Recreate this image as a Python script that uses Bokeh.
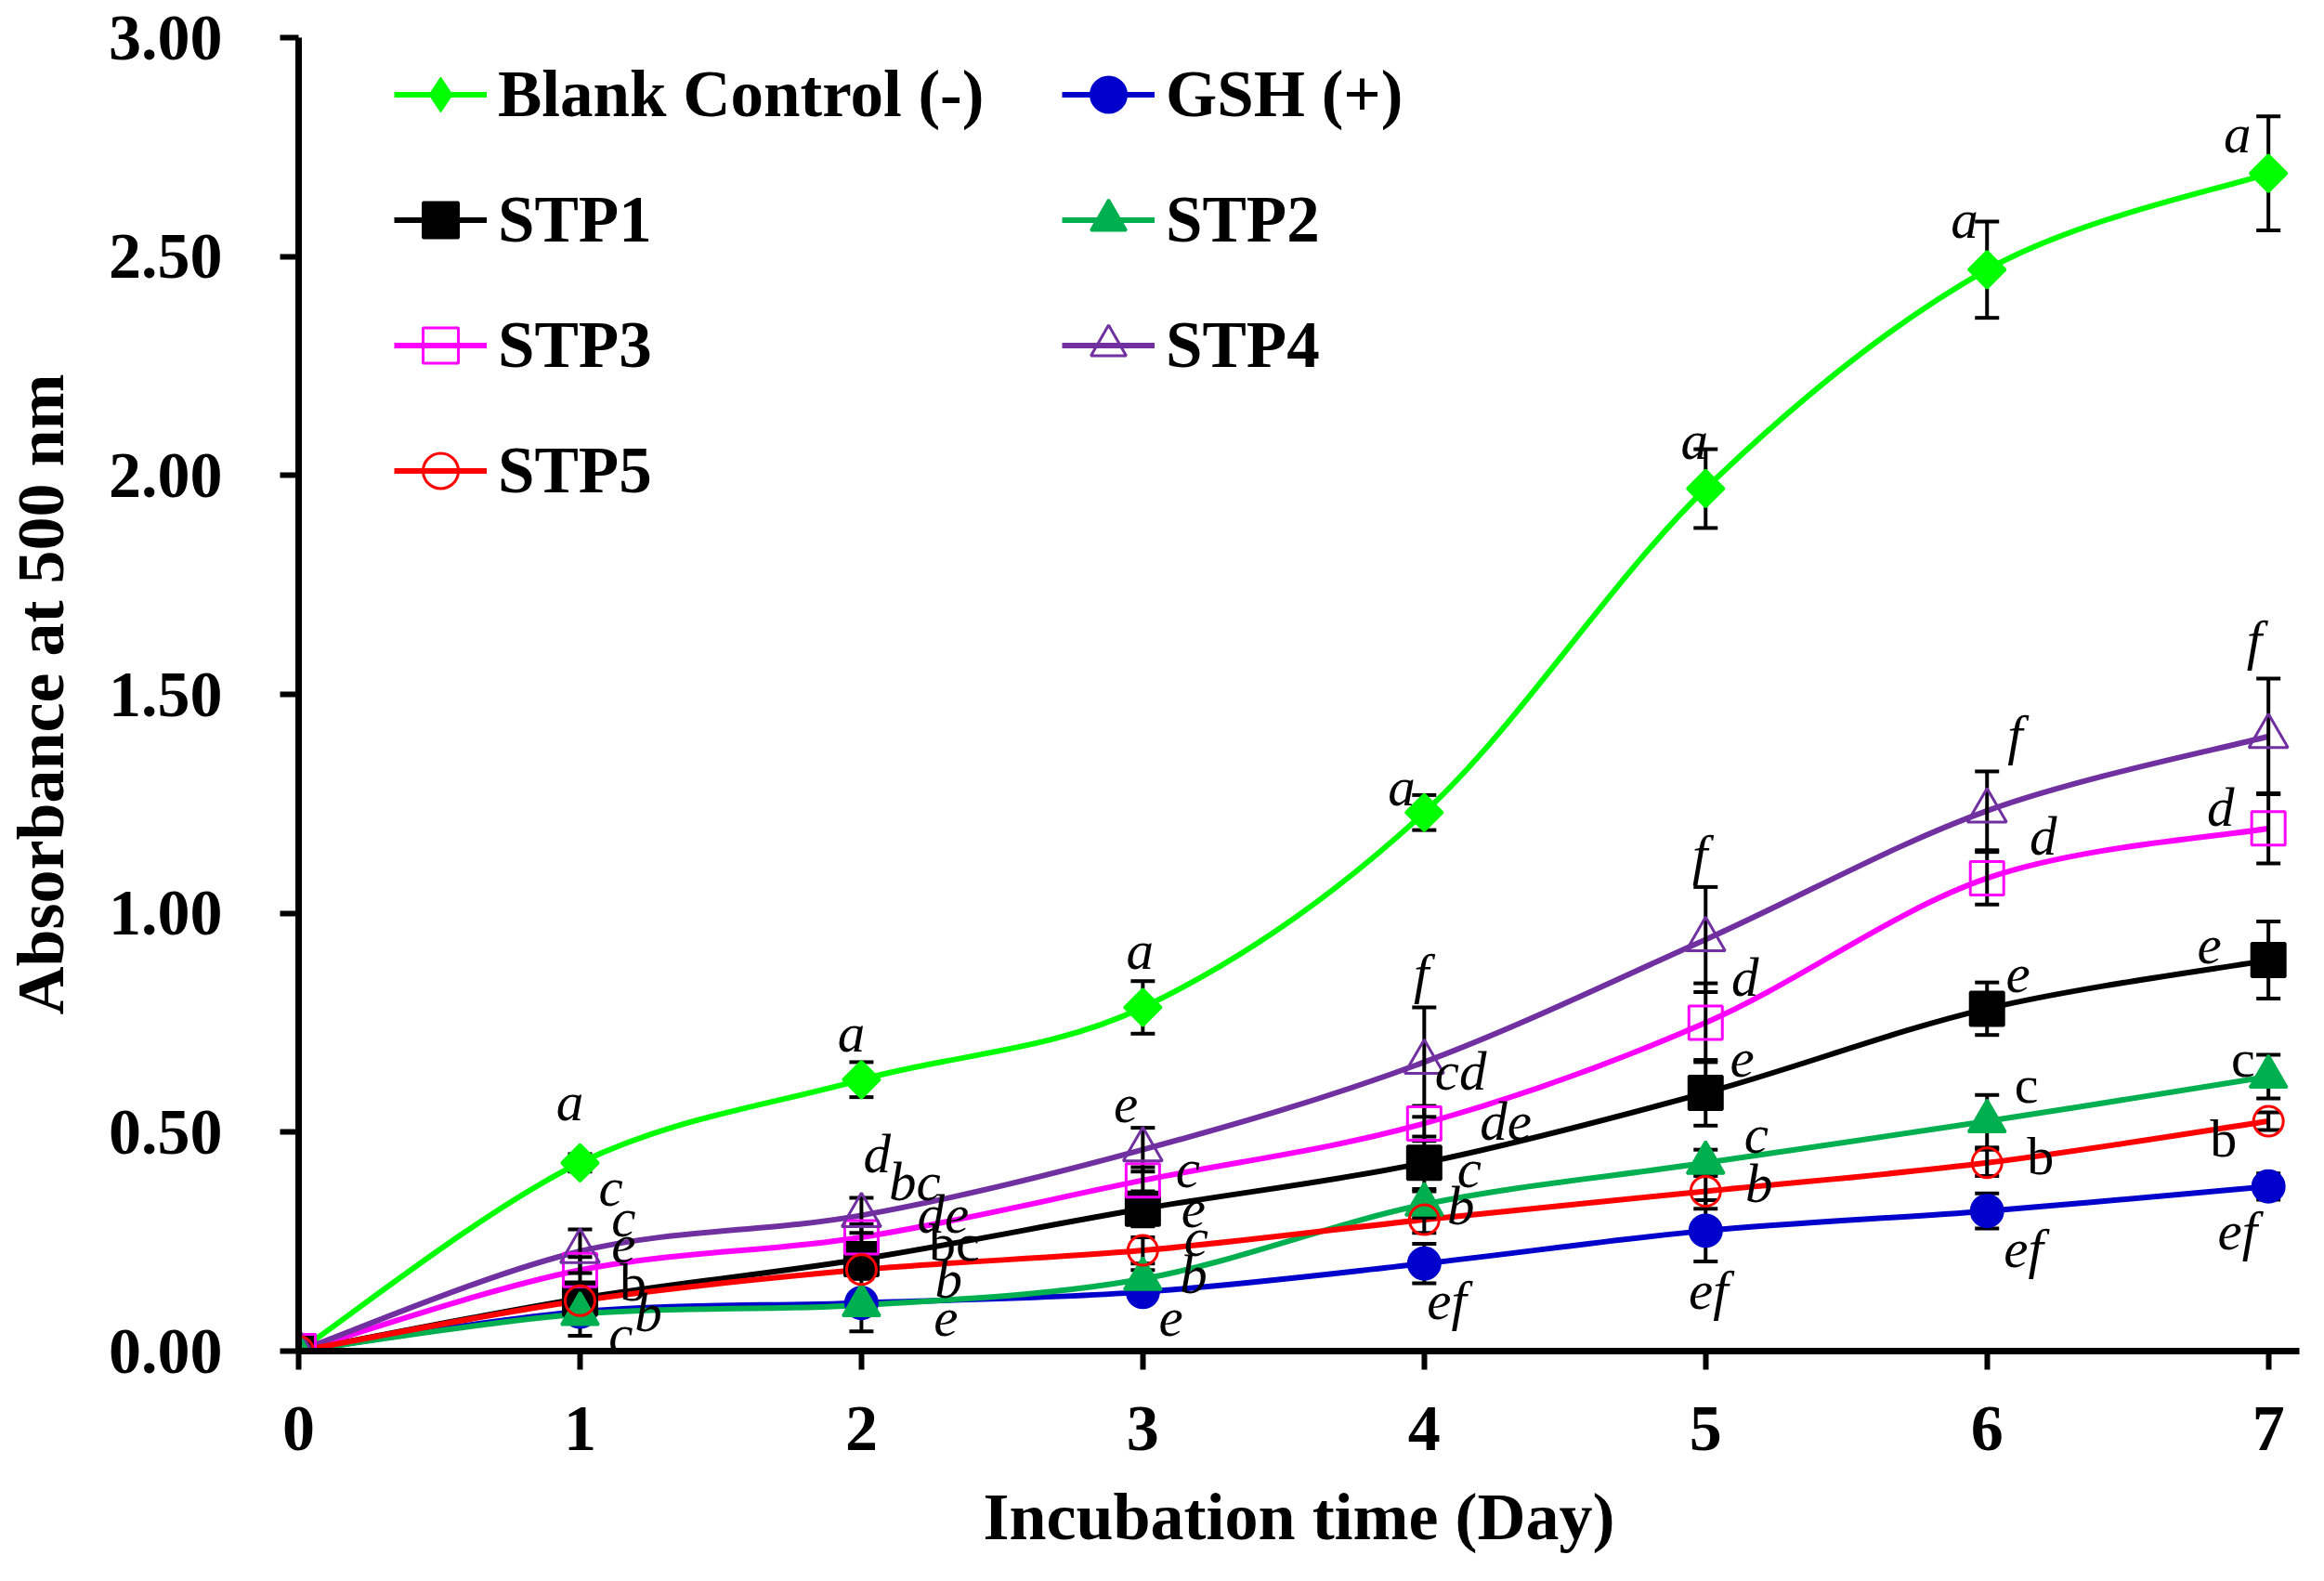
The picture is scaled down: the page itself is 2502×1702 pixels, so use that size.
import numpy as np
from bokeh.plotting import figure
from bokeh.models import Range1d, FixedTicker, PrintfTickFormatter, Legend, LegendItem
from bokeh.embed import file_html
from bokeh.resources import INLINE
from bokeh.core.properties import value

# ---------------- data ----------------
days = [0, 1, 2, 3, 4, 5, 6, 7]

blank = [0.0, 0.43, 0.62, 0.785, 1.23, 1.97, 2.47, 2.69]
blank_err = [0.0, 0.02, 0.04, 0.06, 0.04, 0.09, 0.11, 0.13]

gsh = [0.0, 0.09, 0.11, 0.135, 0.20, 0.275, 0.32, 0.376]
gsh_err = [0.0, 0.01, 0.01, 0.02, 0.045, 0.07, 0.04, 0.03]

stp1 = [0.0, 0.12, 0.21, 0.325, 0.43, 0.59, 0.782, 0.893]
stp1_err = [0.0, 0.02, 0.03, 0.04, 0.06, 0.075, 0.06, 0.088]

stp2 = [0.0, 0.085, 0.105, 0.165, 0.335, 0.43, 0.525, 0.627]
stp2_err = [0.0, 0.05, 0.06, 0.02, 0.03, 0.03, 0.06, 0.05]

stp3 = [0.0, 0.185, 0.26, 0.39, 0.52, 0.75, 1.08, 1.194]
stp3_err = [0.0, 0.03, 0.03, 0.03, 0.04, 0.09, 0.06, 0.08]

stp4 = [0.0, 0.228, 0.31, 0.46, 0.66, 0.94, 1.234, 1.404]
stp4_err = [0.0, 0.05, 0.04, 0.05, 0.125, 0.12, 0.09, 0.132]

stp5 = [0.0, 0.115, 0.186, 0.23, 0.30, 0.365, 0.43, 0.525]
stp5_err = [0.0, 0.02, 0.02, 0.03, 0.03, 0.04, 0.03, 0.02]

series_names = ["Blank Control (-)", "GSH (+)", "STP1", "STP2", "STP3", "STP4", "STP5"]

y_ticks = [0.0, 0.5, 1.0, 1.5, 2.0, 2.5, 3.0]
x_ticks = [0, 1, 2, 3, 4, 5, 6, 7]

# significance letters: (day position, absorbance position, letter)
letters_italic = [
    (0.964, 0.570, "a"), (1.109, 0.375, "c"), (1.155, 0.304, "c"), (1.155, 0.243, "e"),
    (1.243, 0.088, "b"), (1.145, 0.040, "c"),
    (1.964, 0.727, "a"), (2.056, 0.450, "d"), (2.19, 0.387, "bc"), (2.29, 0.312, "de"),
    (2.31, 0.165, "b"), (2.30, 0.077, "e"),
    (2.99, 0.915, "a"), (2.94, 0.565, "e"), (3.16, 0.417, "c"), (3.18, 0.325, "e"),
    (3.19, 0.260, "c"), (3.18, 0.176, "b"), (3.10, 0.077, "e"),
    (3.92, 1.288, "a"), (3.99, 0.863, "f"), (4.13, 0.639, "cd"), (4.29, 0.526, "de"),
    (4.16, 0.417, "c"), (4.13, 0.331, "b"), (4.08, 0.115, "ef"),
    (4.96, 2.080, "a"), (4.98, 1.135, "f"), (5.14, 0.854, "d"), (5.13, 0.668, "e"),
    (5.18, 0.496, "c"), (5.19, 0.383, "b"), (5.01, 0.138, "ef"),
    (5.92, 2.586, "a"), (6.10, 1.407, "f"), (6.20, 1.177, "d"), (6.11, 0.861, "e"),
    (6.13, 0.235, "ef"),
    (6.89, 2.781, "a"), (6.95, 1.625, "f"), (6.83, 1.242, "d"), (6.79, 0.928, "e"),
    (6.89, 0.274, "ef"),
]
letters_upright = [
    (1.188, 0.157, "b"), (2.33, 0.249, "bc"),
    (6.14, 0.609, "c"), (6.19, 0.446, "b"),
    (6.91, 0.668, "c"), (6.84, 0.486, "b"),
]

# ---------------- styles ----------------
FONT = value("Liberation Serif")
styles = [
    dict(color="#00FF00", marker="square", angle=np.pi / 4, size=28, fill=True),
    dict(color="#0000CC", marker="circle", angle=0.0, size=34, fill=True),
    dict(color="#000000", marker="square", angle=0.0, size=36, fill=True),
    dict(color="#00B050", marker="triangle", angle=0.0, size=40, fill=True),
    dict(color="#FF00FF", marker="square", angle=0.0, size=36, fill=False),
    dict(color="#7030A0", marker="triangle", angle=0.0, size=42, fill=False),
    dict(color="#FF0000", marker="circle", angle=0.0, size=32, fill=False),
]
values_list = [blank, gsh, stp1, stp2, stp3, stp4, stp5]
errors_list = [blank_err, gsh_err, stp1_err, stp2_err, stp3_err, stp4_err, stp5_err]

p = figure(width=2486, height=1686, output_backend="svg", toolbar_location=None,
           x_range=Range1d(0, 7.11), y_range=Range1d(0, 3.0),
           min_border_left=314, min_border_right=11, min_border_top=40, min_border_bottom=232)
p.outline_line_color = None
p.grid.visible = False
p.background_fill_color = "white"

for ax in (p.xaxis[0], p.yaxis[0]):
    ax.axis_line_width = 7
    ax.axis_line_color = "black"
    ax.major_tick_line_width = 6
    ax.major_tick_line_color = "black"
    ax.major_tick_out = 20
    ax.major_tick_in = 0
    ax.minor_tick_line_color = None
    ax.major_label_text_font = "Liberation Serif"
    ax.major_label_text_font_style = "bold"
    ax.major_label_text_font_size = "70px"
    ax.major_label_text_color = "black"
    ax.axis_label_text_font = "Liberation Serif"
    ax.axis_label_text_font_style = "bold"
    ax.axis_label_text_font_size = "72px"
    ax.axis_label_text_color = "black"

p.xaxis.ticker = FixedTicker(ticks=x_ticks)
p.yaxis.ticker = FixedTicker(ticks=y_ticks)
p.yaxis.formatter = PrintfTickFormatter(format="%.2f")
p.xaxis.axis_label = "Incubation time (Day)"
p.yaxis.axis_label = "Absorbance at 500 nm"
p.xaxis.major_label_standoff = 40
p.yaxis.major_label_standoff = 62
p.xaxis.axis_label_standoff = 29
p.yaxis.axis_label_standoff = 30


def smooth_controls(xs, ys):
    n = len(xs)
    out = dict(x0=[], y0=[], x1=[], y1=[], cx0=[], cy0=[], cx1=[], cy1=[])
    for i in range(n - 1):
        im, i2 = max(i - 1, 0), min(i + 2, n - 1)
        out["x0"].append(xs[i]); out["y0"].append(ys[i])
        out["x1"].append(xs[i + 1]); out["y1"].append(ys[i + 1])
        out["cx0"].append(xs[i] + (xs[i + 1] - xs[im]) / 6.0)
        out["cy0"].append(ys[i] + (ys[i + 1] - ys[im]) / 6.0)
        out["cx1"].append(xs[i + 1] - (xs[i2] - xs[i]) / 6.0)
        out["cy1"].append(ys[i + 1] - (ys[i2] - ys[i]) / 6.0)
    return out


line_renderers = []
for vals, st in zip(values_list, styles):
    c = smooth_controls(days, vals)
    r = p.bezier(x0=c["x0"], y0=c["y0"], x1=c["x1"], y1=c["y1"],
                 cx0=c["cx0"], cy0=c["cy0"], cx1=c["cx1"], cy1=c["cy1"],
                 line_color=st["color"], line_width=6)
    line_renderers.append(r)

# error bars
for vals, errs in zip(values_list, errors_list):
    xs = [d for d, e in zip(days, errs) if e > 0]
    lo = [v - e for v, e in zip(vals, errs) if e > 0]
    hi = [v + e for v, e in zip(vals, errs) if e > 0]
    p.segment(x0=xs, y0=lo, x1=xs, y1=hi, line_color="black", line_width=4)
    p.scatter(x=xs, y=lo, marker="dash", size=26, line_color="black", line_width=4)
    p.scatter(x=xs, y=hi, marker="dash", size=26, line_color="black", line_width=4)

# legend-shaped diamond for the blank control (lies fully under the plotted diamonds)
legend_diamond = p.scatter(x=days, y=blank, marker="diamond", size=38,
                           line_color="#00FF00", line_width=1, fill_color="#00FF00")

marker_renderers = []
for vals, st in zip(values_list, styles):
    r = p.scatter(x=days, y=vals, marker=st["marker"], size=st["size"], angle=st["angle"],
                  line_color=st["color"], line_width=3,
                  fill_color=st["color"] if st["fill"] else None)
    marker_renderers.append(r)

legend_markers = [legend_diamond] + marker_renderers[1:]

# letters
p.text(x=[t[0] for t in letters_italic], y=[t[1] for t in letters_italic],
       text=[t[2] for t in letters_italic], text_font=FONT, text_font_style="italic",
       text_font_size="59px", text_align="center", text_baseline="middle", text_color="black")
p.text(x=[t[0] for t in letters_upright], y=[t[1] for t in letters_upright],
       text=[t[2] for t in letters_upright], text_font=FONT, text_font_style="normal",
       text_font_size="58px", text_align="center", text_baseline="middle", text_color="black")

items = [LegendItem(label=n, renderers=[lr, mr])
         for n, lr, mr in zip(series_names, line_renderers, legend_markers)]


def make_legend(its, loc):
    lg = Legend(items=its, location=loc, orientation="vertical",
                label_text_font="Liberation Serif", label_text_font_style="bold",
                label_text_font_size="71px", label_text_color="black",
                glyph_width=100, glyph_height=95, label_height=95, label_standoff=12,
                spacing=40, padding=0, margin=0,
                border_line_color=None, background_fill_alpha=0)
    return lg


leg1 = make_legend([items[0], items[2], items[4], items[6]], (103, 900))
leg2 = make_legend([items[1], items[3], items[5]], (822, 1035))
p.add_layout(leg1, "center")
p.add_layout(leg2, "center")

open("out.html", "w").write(file_html(p, INLINE))
